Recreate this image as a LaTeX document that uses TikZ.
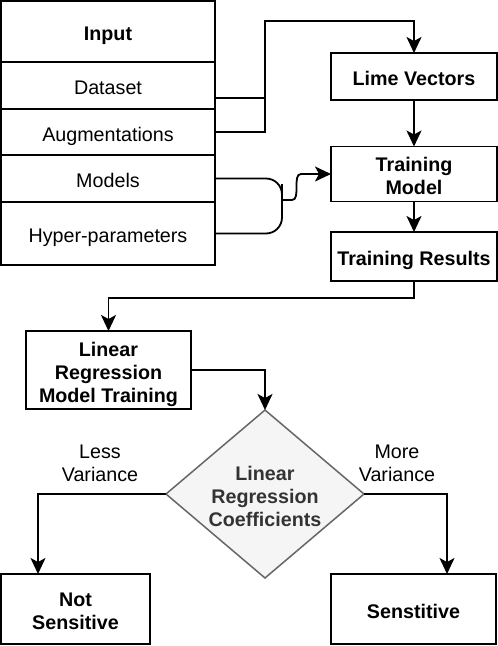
\documentclass[tikz,border=0pt]{standalone}
\usepackage{fontspec}
\setmainfont{Liberation Sans}
\usetikzlibrary{shapes.geometric,arrows.meta}
\definecolor{diafill}{HTML}{F5F5F5}
\definecolor{diadraw}{HTML}{666666}
\definecolor{diatext}{HTML}{333333}
\newcommand{\ml}[1]{\raisebox{0pt}[\dimexpr\height+9pt\relax][\depth]{\begin{tabular}{@{}c@{}}#1\end{tabular}}}
\begin{document}
\begin{tikzpicture}[x=1pt, y=-1pt,
    every node/.style={font=\fontsize{19.7}{23}\selectfont, inner sep=0pt, outer sep=0pt},
    cell/.style={draw, line width=1.8pt, minimum width=214pt},
    box/.style={draw, line width=1.8pt, font=\fontsize{19.7}{23}\selectfont\bfseries},
    link/.style={line width=1.8pt},
    arr/.style={line width=1.8pt, -{Stealth[length=16pt, width=15pt, inset=4pt]}}]
    \useasboundingbox (0,0) rectangle (498,646);

    %input table
    \node[cell, minimum height=61pt, font=\fontsize{19.7}{23}\selectfont\bfseries] (input) at (108,31.5) {\ml{Input}};
    \node[cell, minimum height=47pt] (data)   at (108,85.5)  {\ml{Dataset}};
    \node[cell, minimum height=46pt] (aug)    at (108,132)   {\ml{Augmentations}};
    \node[cell, minimum height=47pt] (models) at (108,178.5) {\ml{Models}};
    \node[cell, minimum height=63pt] (hyper)  at (108,233.5) {\ml{Hyper-parameters}};

    \node[box, minimum width=166pt, minimum height=47pt] (lime)  at (414,76.5)  {\ml{Lime Vectors}};
    \node[box, minimum width=166pt, minimum height=50pt] (train) at (414,174)   {\ml{Training\\Model}};
    \node[box, minimum width=166pt, minimum height=49pt] (res)   at (414,256.5) {\ml{Training Results}};
    \node[box, minimum width=165pt, minimum height=78pt] (lrt)   at (108.5,370) {\ml{Linear\\Regression\\Model Training}};
    \node[diamond, draw=diadraw, fill=diafill, line width=1.5pt, aspect=1.18, inner sep=-4pt,
          minimum width=198pt, minimum height=168pt, text=diatext,
          font=\fontsize{19.7}{23}\selectfont\bfseries] (coef) at (265,494) {\ml{Linear\\Regression\\Coefficients}};
    \node[box, minimum width=149pt, minimum height=70pt] (notsens) at (75.5,609)  {\ml{Not\\Sensitive}};
    \node[box, minimum width=165pt, minimum height=70pt] (sens)    at (413.5,609) {\ml{Senstitive}};

    \coordinate (bendA) at (265,21);
    \coordinate (jn) at (282,200);

    %connectors
    \draw[link] ([yshift=-12.5pt]data.east) -- ([yshift=-12.5pt]data.east -| bendA);
    \draw[arr] (aug.east) -| (bendA) -| (lime.north);
    \draw[arr] (lime.south) -- (train.north);
    \draw[arr] (train.south) -- (res.north);
    \draw[link, rounded corners=16pt] (models.east) -| (jn) |- (hyper.east);
    \draw[arr] (jn) -- ++(10,0) .. controls +(9,0) and +(-9,0) .. ([xshift=-30pt]train.west) -- (train.west);
    \draw[arr] (res.south) -- ++(0,17) -| (lrt.north);
    \draw[arr] (lrt.east) -| (coef.north);
    \draw[arr] (coef.west) -| ([xshift=-37.5pt]notsens.north);
    \draw[arr] (coef.east) -| ([xshift=33.5pt]sens.north);

    \node (less) at (100,461) {\ml{Less\\Variance}};
    \node (more) at (397,461) {\ml{More\\Variance}};
\end{tikzpicture}
\end{document}
